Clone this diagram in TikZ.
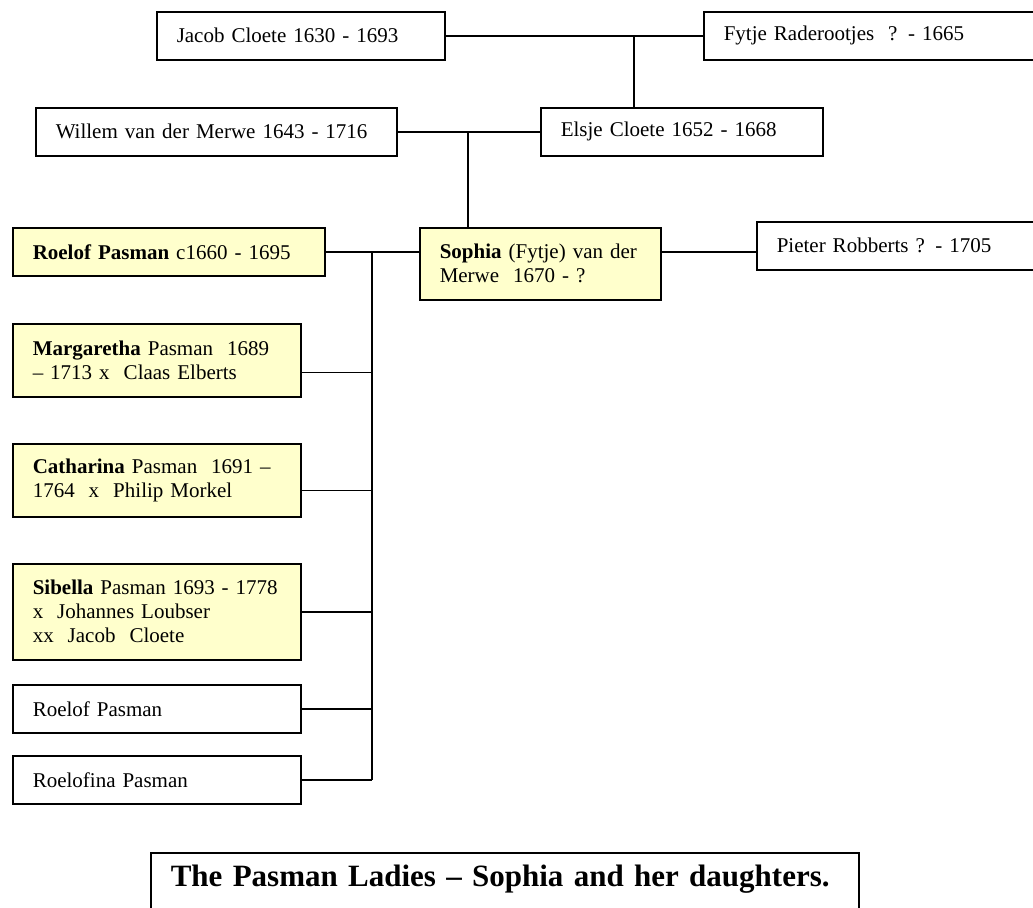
\documentclass[tikz,border=0pt]{standalone}
\usepackage{fontspec}
\setmainfont{Liberation Serif}
\definecolor{paleyellow}{HTML}{FFFFCC}
\tikzset{
	person/.style={draw, line width=0.75pt, anchor=north west, align=left, inner xsep=10pt, inner ysep=0pt, font=\fontsize{10.5}{12}\selectfont},
	lady/.style={person, fill=paleyellow},
	link/.style={line width=0.75pt}
}
\begin{document}
\begin{tikzpicture}[x=0.5pt,y=-0.5pt]
	\clip (0,0) rectangle (1033,907);
	\fill[white] (0,0) rectangle (1033,907);

	\node[person, text width=124pt, minimum height=24pt] (jacob) at (156,11) {Jacob Cloete 1630 - 1693};
	\node[person, text width=160pt, minimum height=24pt] (fytje) at (703,11) {Fytje Raderootjes \ ? - 1665};
	\node[person, text width=160.5pt, minimum height=24pt] (willem) at (35,107) {Willem van der Merwe 1643 - 1716};
	\node[person, text width=121pt, minimum height=24pt] (elsje) at (540,107) {Elsje Cloete 1652 - 1668};
	\node[lady, text width=100.5pt, minimum height=36pt] (sophia) at (419,227) {\textbf{Sophia} (Fytje) van der\\Merwe \ 1670 - ?};
	\node[person, text width=140pt, minimum height=24pt] (pieter) at (756,221) {Pieter Robberts ? - 1705};

	\node[lady, text width=136pt, minimum height=24pt] (roelof) at (12,227) {\textbf{Roelof Pasman} c1660 - 1695};
	\node[lady, text width=124pt, minimum height=36.5pt] (marg) at (12,323) {\textbf{Margaretha} Pasman \ 1689\\– 1713 x \ Claas Elberts};
	\node[lady, text width=124pt, minimum height=36.5pt] (cath) at (12,443) {\textbf{Catharina} Pasman \ 1691 –\\1764 \ x \ Philip Morkel};
	\node[lady, text width=124pt, minimum height=48pt] (sib) at (12,563) {\textbf{Sibella} Pasman 1693 - 1778\\x \ Johannes Loubser\\xx \ Jacob \ Cloete};
	\node[person, text width=124pt, minimum height=24pt] (roelofb) at (12,684) {Roelof Pasman};
	\node[person, text width=124pt, minimum height=24pt] (roelofina) at (12,755) {Roelofina Pasman};

	\node[person, text width=334pt, inner ysep=6pt, text height=11pt, text depth=30pt, font=\fontsize{15.5}{19}\selectfont\bfseries] (caption) at (150,852) {\mbox{The Pasman Ladies – Sophia and her daughters.}};

	\coordinate (jf) at (634,0);
	\coordinate (wx) at (468,0);
	\coordinate (spine) at (372,0);

	\draw[link] (jacob.east) -- (fytje.west);
	\draw[link] (jf |- jacob.east) -- (jf |- elsje.north);
	\draw[link] (willem.east) -- (elsje.west);
	\draw[link] (wx |- willem.east) -- (wx |- sophia.north);
	\draw[link] (roelof.east) -- (sophia.west |- roelof.east);
	\draw[link] (sophia.east |- roelof.east) -- (pieter.west |- roelof.east);
	\draw[link] (spine |- roelof.east) -- (spine |- roelofina.east);
	\foreach \kid/\dy in {marg/-6pt, cath/-5pt, sib/0pt, roelofb/0pt, roelofina/0pt}{
		\coordinate (k) at ([yshift=\dy]\kid.east);
		\draw[link] (k) -- (spine |- k);
	}
\end{tikzpicture}
\end{document}
